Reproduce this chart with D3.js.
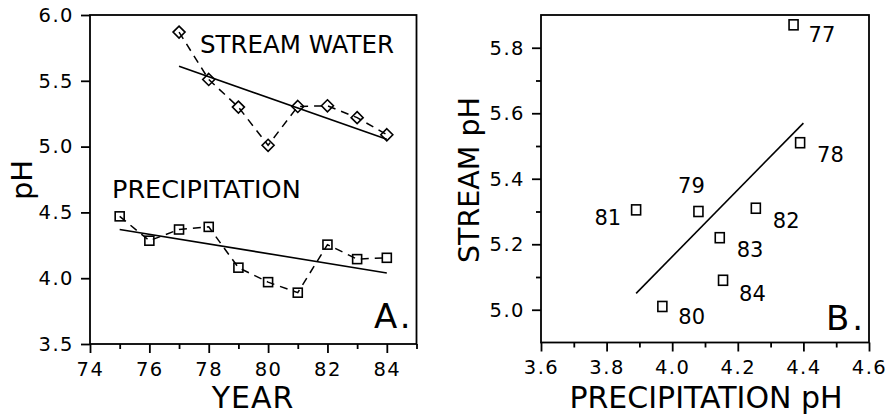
<!DOCTYPE html>
<html>
<head>
<meta charset="utf-8">
<script src="https://cdn.jsdelivr.net/npm/d3@7"></script>
<style>
  body { margin: 0; background: #fff; }
  svg text { font-family: "DejaVu Sans", sans-serif; fill: #000; }
</style>
</head>
<body>
<script>
// Data
const years = [75, 76, 77, 78, 79, 80, 81, 82, 83, 84];
const precipPH = [4.47, 4.285, 4.37, 4.39, 4.08, 3.97, 3.89, 4.255, 4.145, 4.155];
const streamYears = [77, 78, 79, 80, 81, 82, 83, 84];
const streamPH = [5.87, 5.51, 5.30, 5.01, 5.305, 5.31, 5.22, 5.09];

// fitted lines (end points)
const streamFit = [[77, 5.61], [84, 5.055]];
const precipFit = [[75, 4.37], [84, 4.04]];
const scatterFit = [[3.89, 5.05], [4.40, 5.57]];

// tick values
const yearTicks = [74, 76, 78, 80, 82, 84];
const yearMinor = [75, 77, 79, 81, 83, 85];
const phTicksA = [3.5, 4.0, 4.5, 5.0, 5.5, 6.0];
const precipTicksB = [3.6, 3.8, 4.0, 4.2, 4.4, 4.6];
const precipMinorB = [3.7, 3.9, 4.1, 4.3, 4.5];
const streamTicksB = [5.0, 5.2, 5.4, 5.6, 5.8];
const streamMinorB = [5.1, 5.3, 5.5, 5.7];

const width = 891;
const height = 415;

const svg = d3.select("body")
    .append("svg")
    .attr("width", width)
    .attr("height", height);

// helper: frame + ticks
function drawAxes(g, x, y, xMajor, xMinor, yMajor, yMinor, xFmt, yFmt) {
    const [x0, x1] = x.range();
    const [y0, y1] = y.range();

    const xAxis = g.append("g")
        .attr("transform", `translate(0, ${y0})`)
        .call(d3.axisBottom(x).tickValues(xMajor).tickSize(9).tickPadding(9)
            .tickSizeOuter(0).tickFormat(xFmt));
    const xAxisMinor = g.append("g")
        .attr("transform", `translate(0, ${y0})`)
        .call(d3.axisBottom(x).tickValues(xMinor).tickSize(5)
            .tickSizeOuter(0).tickFormat(""));
    const yAxis = g.append("g")
        .attr("transform", `translate(${x0}, 0)`)
        .call(d3.axisLeft(y).tickValues(yMajor).tickSize(9).tickPadding(7)
            .tickSizeOuter(0).tickFormat(yFmt));
    const yAxisMinor = g.append("g")
        .attr("transform", `translate(${x0}, 0)`)
        .call(d3.axisLeft(y).tickValues(yMinor).tickSize(5)
            .tickSizeOuter(0).tickFormat(""));

    [xAxis, xAxisMinor, yAxis, yAxisMinor].forEach(a => {
        a.select(".domain").remove();
        a.selectAll("line").attr("stroke", "#000").attr("stroke-width", 1.8);
        a.selectAll("text")
            .style("font-family", "DejaVu Sans")
            .style("font-size", "19.5px")
            .style("letter-spacing", "1.5px")
            .attr("fill", "#000");
    });

    g.append("rect")
        .attr("x", x0)
        .attr("y", y1)
        .attr("width", x1 - x0)
        .attr("height", y0 - y1)
        .attr("fill", "none")
        .attr("stroke", "#000")
        .attr("stroke-width", 1.8);
}

const fmt1 = d3.format(".1f");

// ---------- Panel A ----------
const gA = svg.append("g");

const xA = d3.scaleLinear().domain([74, 85]).range([90, 416.5]);
const yA = d3.scaleLinear().domain([3.5, 6.0]).range([344, 15]);

drawAxes(gA, xA, yA, yearTicks, yearMinor, phTicksA, [], d3.format("d"), fmt1);

const lineA = d3.line().x(d => xA(d[0])).y(d => yA(d[1]));

// dashed series
const streamData = streamYears.map((yr, i) => [yr, streamPH[i]]);
const precipData = years.map((yr, i) => [yr, precipPH[i]]);

gA.append("path")
    .datum(streamData)
    .attr("d", lineA)
    .attr("fill", "none")
    .attr("stroke", "#000")
    .attr("stroke-width", 1.5)
    .attr("stroke-dasharray", "8,6");

gA.append("path")
    .datum(precipData)
    .attr("d", lineA)
    .attr("fill", "none")
    .attr("stroke", "#000")
    .attr("stroke-width", 1.5)
    .attr("stroke-dasharray", "8,6");

// fitted lines
[streamFit, precipFit].forEach(f => {
    gA.append("path")
        .datum(f)
        .attr("d", lineA)
        .attr("fill", "none")
        .attr("stroke", "#000")
        .attr("stroke-width", 1.6);
});

// diamond markers
gA.selectAll(".diamond")
    .data(streamData)
    .enter()
    .append("path")
    .attr("class", "diamond")
    .attr("transform", d => `translate(${xA(d[0])}, ${yA(d[1])})`)
    .attr("d", "M0,-6L6,0L0,6L-6,0Z")
    .attr("fill", "none")
    .attr("stroke", "#000")
    .attr("stroke-width", 1.6);

// square markers
gA.selectAll(".sq")
    .data(precipData)
    .enter()
    .append("rect")
    .attr("class", "sq")
    .attr("x", d => xA(d[0]) - 4.5)
    .attr("y", d => yA(d[1]) - 4.5)
    .attr("width", 9)
    .attr("height", 9)
    .attr("fill", "none")
    .attr("stroke", "#000")
    .attr("stroke-width", 1.6);

// series labels
gA.append("text")
    .attr("x", 200)
    .attr("y", 53)
    .style("font-size", "24.5px")
    .text("STREAM WATER");

gA.append("text")
    .attr("x", 112)
    .attr("y", 198)
    .style("font-size", "25.5px")
    .text("PRECIPITATION");

// panel letter
gA.append("text")
    .attr("x", 374)
    .attr("y", 328)
    .style("font-size", "34px")
    .attr("letter-spacing", "3")
    .text("A.");

// axis titles
gA.append("text")
    .attr("x", 253)
    .attr("y", 408)
    .attr("text-anchor", "middle")
    .style("font-size", "30px")
    .style("letter-spacing", "1px")
    .text("YEAR");

gA.append("text")
    .attr("transform", "rotate(-90)")
    .attr("x", -180)
    .attr("y", 32)
    .attr("text-anchor", "middle")
    .style("font-size", "29px")
    .text("pH");

// ---------- Panel B ----------
const gB = svg.append("g");

const xB = d3.scaleLinear().domain([3.6, 4.6]).range([541, 869]);
const yB = d3.scaleLinear().domain([4.9, 5.9]).range([342.5, 15]);

drawAxes(gB, xB, yB, precipTicksB, precipMinorB, streamTicksB, streamMinorB, fmt1, fmt1);

// paired points (years 77-84)
const pairs = streamYears.map((yr, i) => ({
    year: yr,
    precip: precipPH[years.indexOf(yr)],
    stream: streamPH[i]
}));

const lineB = d3.line().x(d => xB(d[0])).y(d => yB(d[1]));

gB.append("path")
    .datum(scatterFit)
    .attr("d", lineB)
    .attr("fill", "none")
    .attr("stroke", "#000")
    .attr("stroke-width", 1.6);

gB.selectAll(".sq")
    .data(pairs)
    .enter()
    .append("rect")
    .attr("class", "sq")
    .attr("x", d => xB(d.precip) - 4.5)
    .attr("y", d => yB(d.stream) - 5)
    .attr("width", 9)
    .attr("height", 10)
    .attr("fill", "none")
    .attr("stroke", "#000")
    .attr("stroke-width", 1.6);

// label placement per year: [dx, dy, anchor]
const labelPos = {
    77: [15, 17, "start"],
    78: [17, 19, "start"],
    79: [-7, -19, "middle"],
    80: [16, 18, "start"],
    81: [-15, 15, "end"],
    82: [17, 20, "start"],
    83: [17, 19, "start"],
    84: [16, 21, "start"]
};

gB.selectAll(".year-label")
    .data(pairs)
    .enter()
    .append("text")
    .attr("class", "year-label")
    .attr("x", d => xB(d.precip) + labelPos[d.year][0])
    .attr("y", d => yB(d.stream) + labelPos[d.year][1])
    .attr("text-anchor", d => labelPos[d.year][2])
    .style("font-size", "21px")
    .text(d => d.year);

gB.append("text")
    .attr("x", 826)
    .attr("y", 330)
    .style("font-size", "34px")
    .attr("letter-spacing", "3")
    .text("B.");

gB.append("text")
    .attr("x", 706)
    .attr("y", 408)
    .attr("text-anchor", "middle")
    .style("font-size", "30px")
    .text("PRECIPITATION pH");

gB.append("text")
    .attr("transform", "rotate(-90)")
    .attr("x", -180)
    .attr("y", 479)
    .attr("text-anchor", "middle")
    .style("font-size", "28.5px")
    .text("STREAM pH");
</script>
</body>
</html>
